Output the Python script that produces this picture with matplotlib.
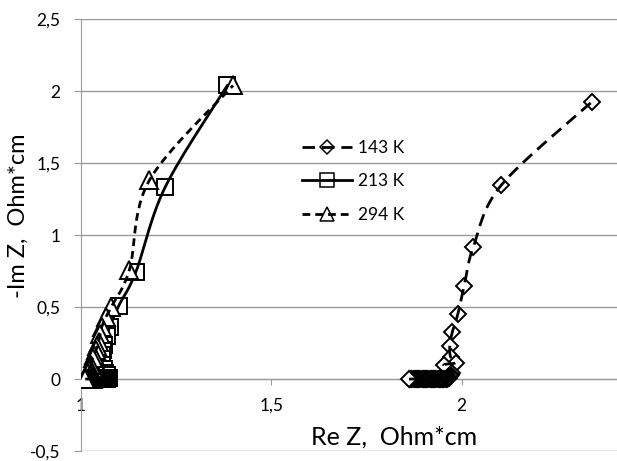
import matplotlib
matplotlib.use("Agg")
import matplotlib.pyplot as plt
import numpy as np
from matplotlib.lines import Line2D
from matplotlib.legend_handler import HandlerTuple
from matplotlib.ticker import FuncFormatter, MultipleLocator

plt.rcParams['font.family'] = ['Lato', 'DejaVu Sans']

# 143 K  (diamonds, dashed)
re_143 = [1.862, 1.865, 1.868, 1.871, 1.874, 1.877, 1.880, 1.883, 1.886, 1.889,
          1.892, 1.895, 1.898, 1.901, 1.904, 1.907, 1.910, 1.913, 1.916, 1.919,
          1.922, 1.925, 1.928, 1.931, 1.934, 1.937, 1.940, 1.943, 1.946, 1.949,
          1.952, 1.955, 1.958, 1.961, 1.964, 1.967, 1.970, 1.973, 1.976,
          1.953, 1.984, 1.971, 1.969, 1.976, 1.990, 2.007, 2.031, 2.104, 2.342]
im_143 = [0.0, 0.0, 0.0, 0.0, 0.0, 0.0, 0.0, 0.0, 0.0, 0.0,
          0.0, 0.0, 0.0, 0.0, 0.0, 0.0, 0.0, 0.0, 0.0, 0.0,
          0.0, 0.0, 0.0, 0.0, 0.0, 0.0, 0.0, 0.0, 0.0, 0.0,
          0.0, 0.0, 0.0, 0.0, 0.005, 0.01, 0.02, 0.03, 0.045,
          0.097, 0.113, 0.155, 0.23, 0.33, 0.45, 0.65, 0.92, 1.347, 1.926]

# 213 K  (squares, solid)
re_213 = [1.032, 1.034, 1.036, 1.038, 1.040, 1.042, 1.044, 1.046, 1.048, 1.050,
          1.052, 1.054, 1.056, 1.058, 1.060, 1.062, 1.064, 1.066, 1.068, 1.070,
          1.072, 1.074, 1.070, 1.064, 1.060, 1.057, 1.055, 1.058, 1.061, 1.068,
          1.076, 1.100, 1.145, 1.222, 1.385]
im_213 = [0.0, 0.0, 0.0, 0.0, 0.0, 0.0, 0.0, 0.0, 0.0, 0.0,
          0.0, 0.0, 0.0, 0.0, 0.0, 0.0, 0.0, 0.0, 0.0, 0.0,
          0.005, 0.01, 0.025, 0.045, 0.07, 0.097, 0.17, 0.205, 0.24, 0.30,
          0.36, 0.51, 0.745, 1.335, 2.04]

# 294 K  (triangles, short dash)
re_294 = [1.012, 1.014, 1.016, 1.018, 1.020, 1.022, 1.024, 1.026, 1.028, 1.030,
          1.032, 1.034, 1.036, 1.030, 1.024, 1.020, 1.022, 1.025, 1.027, 1.031,
          1.035, 1.040, 1.044, 1.047, 1.051, 1.055, 1.066, 1.080, 1.128, 1.180,
          1.400]
im_294 = [0.0, 0.0, 0.0, 0.0, 0.0, 0.0, 0.0, 0.0, 0.0, 0.0,
          0.0, 0.005, 0.01, 0.02, 0.03, 0.045, 0.06, 0.08, 0.10, 0.146,
          0.17, 0.20, 0.23, 0.26, 0.31, 0.36, 0.43, 0.50, 0.76, 1.38,
          2.04]

labels = ['143 K', '213 K', '294 K']


def smooth(x, y, n=16):
    # Excel-like smoothed line (Catmull-Rom bezier through the points)
    p = np.column_stack([x, y]).astype(float)
    p = np.vstack([p[0], p, p[-1]])
    out = []
    t = np.linspace(0, 1, n, endpoint=False)[:, None]
    for i in range(1, len(p) - 2):
        p0, p1, p2, p3 = p[i - 1], p[i], p[i + 1], p[i + 2]
        c1 = p1 + (p2 - p0) / 6
        c2 = p2 - (p3 - p1) / 6
        out.append((1 - t) ** 3 * p1 + 3 * (1 - t) ** 2 * t * c1
                   + 3 * (1 - t) * t ** 2 * c2 + t ** 3 * p2)
    out.append(p[-2][None])
    s = np.vstack(out)
    return s[:, 0], s[:, 1]


fig = plt.figure(figsize=(6.17, 4.61), dpi=100)
ax = fig.add_axes([80.7 / 617, 10 / 461, (617 - 80.7) / 617, (451 - 19.3) / 461])

grid_c = '#9a9a9a'
styles = [
    dict(marker='D', ms=8.3, dashes=(4.5, 2.5)),
    dict(marker='s', ms=11.5, dashes=None),
    dict(marker='^', ms=13, dashes=(2.8, 1.8)),
]
series = [(re_143, im_143), (re_213, im_213), (re_294, im_294)]

handles = []
z = 3
for (xs, ys), st, lab in zip(series, styles, labels):
    # markers drawn from the top of the curve down, so the y=0 pile ends up on top
    ax.plot(xs[::-1], ys[::-1], ls='none', marker=st['marker'], ms=st['ms'],
            mfc='white', mec='k', mew=1.4, zorder=z)
    sx, sy = smooth(xs, ys)
    ln, = ax.plot(sx, sy, color='k', lw=2, zorder=z + 0.5)
    if st['dashes']:
        ln.set_dashes(st['dashes'])
    z += 1

    mk = Line2D([], [], ls='none', marker=st['marker'], ms=st['ms'] * 0.82,
                mfc='white', mec='k', mew=1.1)
    hl = Line2D([], [], color='k', lw=2)
    if st['dashes']:
        hl.set_dashes(st['dashes'])
    handles.append((mk, hl))

ax.set_xlim(1, 2.408)
ax.set_ylim(-0.5, 2.5)
ax.xaxis.set_major_locator(MultipleLocator(0.5))
ax.yaxis.set_major_locator(MultipleLocator(0.5))
fmt = FuncFormatter(lambda v, p: f"{v:g}".replace('.', ','))
ax.xaxis.set_major_formatter(fmt)
ax.yaxis.set_major_formatter(fmt)

ax.grid(axis='y', color=grid_c, lw=1)
ax.set_axisbelow(True)
for s in ['top', 'right']:
    ax.spines[s].set_visible(False)
ax.spines['left'].set_color(grid_c)
ax.spines['bottom'].set_color(grid_c)
ax.spines['bottom'].set_position(('data', 0))

ax.tick_params(axis='y', length=5.4, color=grid_c, pad=9.4, labelsize=12.5)
ax.tick_params(axis='x', length=4, color=grid_c, pad=9.6, labelsize=12.5)

fig.text(394 / 617, 1 - 437 / 461, 'Re Z,  Ohm*cm', ha='center', va='center', fontsize=18)
fig.text(18 / 617, 1 - 216 / 461, '-Im Z,  Ohm*cm', ha='center', va='center',
         rotation=90, fontsize=17)

ax.legend(handles, labels, loc='upper left', bbox_to_anchor=(302 / 617, 1 - 140 / 461),
          bbox_transform=fig.transFigure, frameon=False, borderpad=0, borderaxespad=0,
          handlelength=2.9, handletextpad=0.35, labelspacing=1.0, fontsize=12.5,
          numpoints=1, handler_map={tuple: HandlerTuple(ndivide=1)})

fig.savefig('out.png', dpi=100)
